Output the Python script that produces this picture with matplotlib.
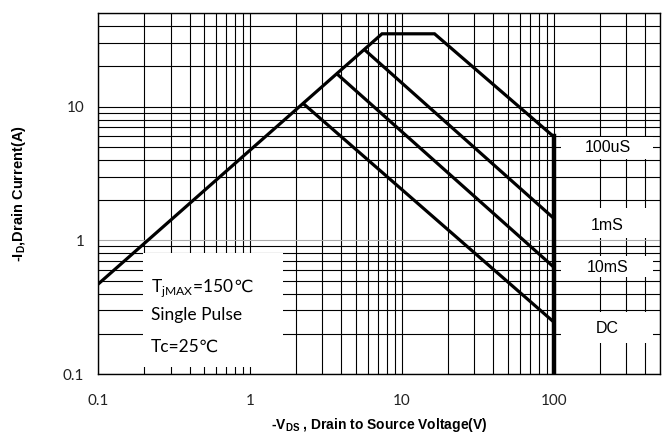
import numpy as np
import matplotlib.pyplot as plt
from matplotlib.patches import Rectangle
from matplotlib.ticker import LogLocator, NullFormatter, FixedLocator

plt.rcParams['mathtext.fontset'] = 'custom'
plt.rcParams['mathtext.rm'] = 'Lato'
plt.rcParams['mathtext.bf'] = 'Liberation Sans:bold'

# curvas da SOA (Vds em V, Id em A)
vds_100us = [0.1, 7.4, 16.4, 100, 100]
id_100us = [0.47, 35, 35, 5.95, 0.1]
vds_1ms = [5.7, 100]
id_1ms = [26.5, 1.46]
vds_10ms = [3.75, 100]
id_10ms = [17.5, 0.63]
vds_dc = [2.25, 100]
id_dc = [10.5, 0.245]

curvas = ['100uS', '1mS', '10mS', 'DC']
pos_rotulo_y = [4.95, 1.29, 0.63, 0.22]
caixa_rotulo_y = [(4.09, 5.97), (1.04, 1.73), (0.53, 0.77), (0.17, 0.29)]

x_ticks = [0.1, 1, 10, 100]
x_ticklabels = ['0.1', '1', '10', '100']
y_ticks = [0.1, 1, 10]
y_ticklabels = ['0.1', '1', '10']

fig = plt.figure(figsize=(6.67, 4.36), dpi=100)
ax = fig.add_axes([0.147, 0.142, 0.8425, 0.828])
ax.set_xscale('log')
ax.set_yscale('log')
ax.set_xlim(0.1, 500)
ax.set_ylim(0.1, 50)

ax.xaxis.set_major_locator(FixedLocator(x_ticks))
ax.yaxis.set_major_locator(FixedLocator(y_ticks))
ax.xaxis.set_minor_locator(LogLocator(base=10, subs=np.arange(2, 10)))
ax.yaxis.set_minor_locator(LogLocator(base=10, subs=np.arange(2, 10)))
ax.xaxis.set_minor_formatter(NullFormatter())
ax.yaxis.set_minor_formatter(NullFormatter())
ax.set_xticklabels(x_ticklabels, family='Lato', fontsize=11, color='#222222')
ax.set_yticklabels(y_ticklabels, family='Lato', fontsize=11, color='#222222')
ax.tick_params(which='both', length=0, pad=10)
ax.tick_params(axis='x', pad=14)

ax.grid(which='both', color='black', linewidth=0.8)
for gl, v in zip(ax.get_ygridlines(), y_ticks):
    if v == 1:
        gl.set_color('#aaaaaa')
for s in ax.spines.values():
    s.set_linewidth(1.0)

ax.plot(vds_100us, id_100us, color='black', lw=2.3, solid_joinstyle='miter', zorder=4)
ax.plot(vds_1ms, id_1ms, color='black', lw=2.3, zorder=4)
ax.plot(vds_10ms, id_10ms, color='black', lw=2.3, zorder=4)
ax.plot(vds_dc, id_dc, color='black', lw=2.3, zorder=4)
ax.plot([100, 100], [0.1, 6], color='black', lw=3.2, zorder=5)

# caixas brancas dos rótulos
for nome, yt, (y0, y1) in zip(curvas, pos_rotulo_y, caixa_rotulo_y):
    ax.add_patch(Rectangle((111, y0), 448 - 111, y1 - y0, facecolor='white',
                           edgecolor='none', zorder=3))
    ax.text(226, yt, nome, family='Liberation Sans', fontsize=11.5,
            ha='center', va='center', zorder=6)

# caixa de condições
ax.add_patch(Rectangle((0.199, 0.113), 1.65 - 0.199, 0.80 - 0.113,
                       facecolor='white', edgecolor='none', zorder=3))
fam = ['Lato', 'DejaVu Sans']
t1 = ax.text(0.222, 0.41, 'T$_{\\mathrm{jMAX}}$=150', family=fam, fontsize=12.5,
             va='baseline', zorder=6)
ax.text(0.222, 0.275, 'Single Pulse', family=fam, fontsize=12.5, va='center', zorder=6)
ax.text(0.222, 0.16, 'Tc=25℃', family=fam, fontsize=12.5, va='center', zorder=6)

ax.set_xlabel('-V$_{\\mathbf{DS}}$ , Drain to Source Voltage(V)', family='Liberation Sans',
              fontweight='bold', fontsize=10, labelpad=6)
ax.set_ylabel('-I$_{\\mathbf{D}}$,Drain Current(A)', family='Liberation Sans',
              fontweight='bold', fontsize=10.5, labelpad=25)

# ℃ logo depois do texto com subscrito
fig.canvas.draw()
bb = t1.get_window_extent()
x_fim = ax.transData.inverted().transform((bb.x1, bb.y0))[0]
ax.text(x_fim, 0.41, '℃', family=fam, fontsize=12.5, va='baseline', zorder=6)

plt.savefig('out.png', dpi=100)
